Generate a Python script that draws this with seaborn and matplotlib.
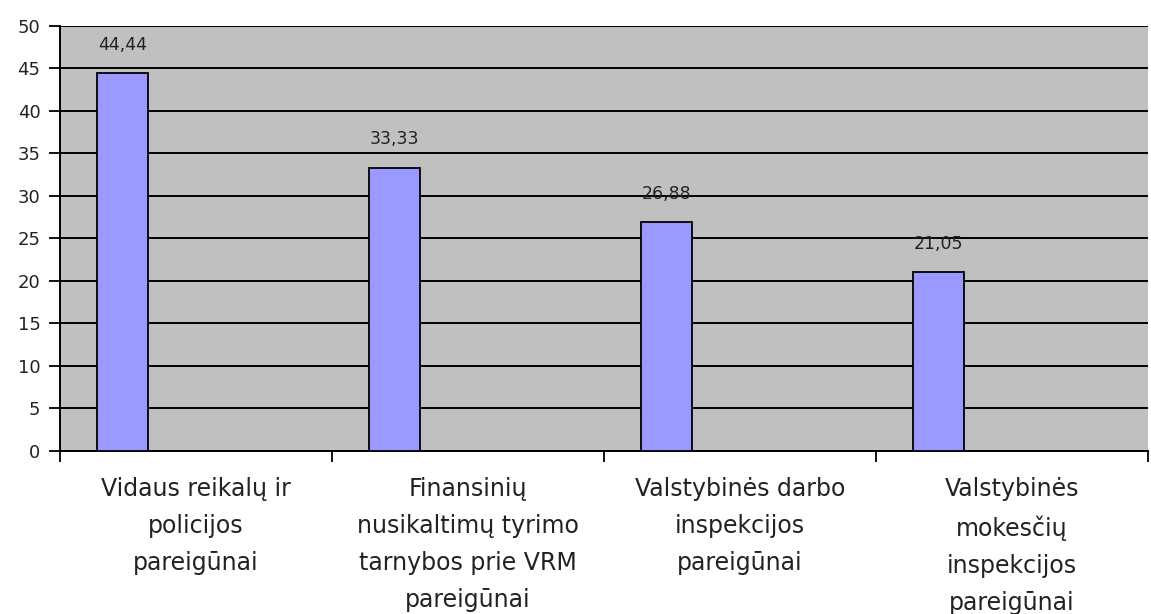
import numpy as np
import pandas as pd
import matplotlib
matplotlib.use("Agg")
import matplotlib.pyplot as plt
import seaborn as sns

categories = [
    "Vidaus reikalų ir\npolicijos\npareigūnai",
    "Finansinių\nnusikaltimų tyrimo\ntarnybos prie VRM\npareigūnai",
    "Valstybinės darbo\ninspekcijos\npareigūnai",
    "Valstybinės\nmokesčių\ninspekcijos\npareigūnai",
]
values = [44.44, 33.33, 26.88, 21.05]
value_labels = ["44,44", "33,33", "26,88", "21,05"]
y_ticks = [0, 5, 10, 15, 20, 25, 30, 35, 40, 45, 50]

sns.set_theme(style="white")
plt.rcParams["font.family"] = ["DejaVu Sans"]

df = pd.DataFrame({"cat": categories, "val": values})

fig = plt.figure(figsize=(11.51, 6.14), dpi=100)
ax = fig.add_axes([0.0521, 0.2655, 0.9453, 0.6922])
ax.set_facecolor("#C0C0C0")

sns.barplot(data=df, x="cat", y="val", color="#9999FF", width=0.185,
            edgecolor="black", linewidth=1.3, saturation=1, ax=ax, zorder=3)

# bars sit at the left of each category slot
offset = 0.27
ax.set_xlim(-0.5 + offset, len(categories) - 0.5 + offset)
ax.set_ylim(0, 50)
ax.set_yticks(y_ticks)
ax.yaxis.grid(True, color="black", linewidth=1.4)
ax.set_axisbelow(True)

ax.set_xticks(np.arange(len(categories)) + offset)
ax.set_xticklabels(categories, fontsize=17, color="#222222", linespacing=1.68)
ax.set_xticks(np.arange(len(categories) + 1) - 0.5 + offset, minor=True)
ax.tick_params(axis="x", which="major", bottom=True, length=0, pad=19)
ax.tick_params(axis="x", which="minor", bottom=True, length=8, width=1.3,
               color="black", direction="out")
ax.tick_params(axis="y", left=True, length=8, width=1.3, color="black", direction="out",
               labelsize=13, labelcolor="#222222", pad=6)
ax.set_xlabel("")
ax.set_ylabel("")

for s in ["top", "right"]:
    ax.spines[s].set_visible(False)
for s in ["left", "bottom"]:
    ax.spines[s].set_color("black")
    ax.spines[s].set_linewidth(1.4)

for i, (v, lab) in enumerate(zip(values, value_labels)):
    ax.annotate(lab, (i, v), xytext=(0, 14), textcoords="offset points",
                ha="center", va="bottom", fontsize=12.5, color="#222222")

fig.savefig("out.png", dpi=100, facecolor="white")
